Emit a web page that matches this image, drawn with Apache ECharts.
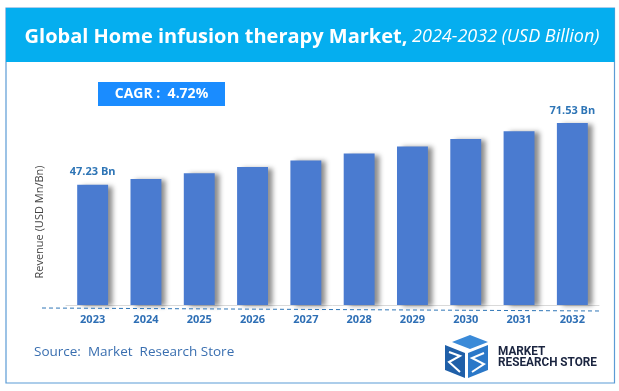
<!DOCTYPE html>
<html><head><meta charset="utf-8">
<script src="https://cdn.jsdelivr.net/npm/echarts@6/dist/echarts.min.js"></script>
<style>html,body{margin:0;padding:0;background:#fff}#c{width:619px;height:391px}</style>
</head><body><div id="c"></div>
<script>
const years = ['2023','2024','2025','2026','2027','2028','2029','2030','2031','2032'];
const revenue = [47.23, 49.46, 51.79, 54.24, 56.80, 59.48, 62.28, 65.22, 68.30, 71.53];
const labelText = ['47.23 Bn','','','','','','','','','71.53 Bn'];
const titleMain = 'Global Home infusion therapy Market,';
const titleSub = ' 2024-2032 (USD Billion)';
const cagrText = 'CAGR :  4.72%';
const yName = 'Revenue (USD Mn/Bn)';
const sourceText = 'Source:  Market  Research Store';

const FONT = 'Open Sans';
const chart = echarts.init(document.getElementById('c'));
const data = revenue.map((v, i) => ({
  value: v,
  label: { show: labelText[i] !== '', formatter: labelText[i] }
}));
chart.setOption({
  animation: false,
  grid: { left: 66, right: 20, top: 101.4, bottom: 86 },
  xAxis: {
    type: 'category', data: years,
    axisLine: { lineStyle: { color: '#d9d9d9', width: 1 } },
    axisTick: { show: false },
    axisLabel: { color: '#2e6fb5', fontWeight: 'bold', fontSize: 11, fontFamily: FONT, margin: 9 }
  },
  yAxis: {
    type: 'value', min: 0, max: 80,
    axisLabel: { show: false }, axisLine: { show: false }, axisTick: { show: false },
    splitLine: { show: false }
  },
  series: [{
    type: 'bar', data: data, barWidth: '58%',
    itemStyle: { color: '#4a7bd0', shadowColor: 'rgba(0,0,0,0.45)', shadowBlur: 5, shadowOffsetX: 5, shadowOffsetY: 1 },
    label: { position: 'top', distance: 7, color: '#2e75b6', fontWeight: 'bold', fontSize: 11, fontFamily: FONT }
  }],
  graphic: [
    { type: 'rect', shape: { x: 6, y: 8, width: 608.5, height: 375 }, style: { fill: 'none', stroke: '#5b9bd5', lineWidth: 1.2 }, z: 1 },
    { type: 'rect', shape: { x: 6, y: 8, width: 608.5, height: 54 }, style: { fill: '#05aeef' }, z: 2 },
    { type: 'text', x: 312, y: 37, z: 3, style: {
        text: '{a|' + titleMain + '}{b|' + titleSub + '}', align: 'center', verticalAlign: 'middle',
        rich: {
          a: { fill: '#fff', fontWeight: 'bold', fontSize: 20, fontFamily: FONT },
          b: { fill: '#fff', fontStyle: 'italic', fontSize: 18, fontFamily: FONT }
        } } },
    { type: 'rect', shape: { x: 98, y: 82, width: 127, height: 24 }, style: { fill: '#1a8cff' }, z: 2 },
    { type: 'text', x: 161.5, y: 94, z: 3, style: { text: cagrText, align: 'center', verticalAlign: 'middle', fill: '#fff', fontWeight: 'bold', fontSize: 14, fontFamily: FONT } },
    { type: 'text', x: 40, y: 222, rotation: Math.PI / 2, z: 3, style: { text: yName, align: 'center', verticalAlign: 'middle', fill: '#444', fontSize: 11, fontFamily: FONT } },
    { type: 'line', shape: { x1: 42, y1: 308, x2: 601, y2: 311 }, style: { stroke: '#2e75b6', lineWidth: 1, lineDash: [4, 3] }, z: 3 },
    { type: 'text', x: 34, y: 352, z: 3, style: { text: sourceText, align: 'left', verticalAlign: 'middle', fill: '#3a6fb0', fontSize: 13.5, fontFamily: FONT } },
    { type: 'polygon', shape: { points: [[452,342],[470,335],[488,342],[470,349]] }, style: { fill: '#3a8ad8' }, z: 3 },
    { type: 'polygon', shape: { points: [[445,345],[465,353],[465,378],[445,370]] }, style: { fill: '#1f5fa8' }, z: 3 },
    { type: 'polygon', shape: { points: [[468,353],[488,345],[488,370],[468,378]] }, style: { fill: '#2b78c8' }, z: 3 },
    { type: 'polyline', shape: { points: [[449,352],[460,356],[449,362],[460,372]] }, style: { stroke: '#fff', lineWidth: 2, fill: 'none' }, z: 4 },
    { type: 'polyline', shape: { points: [[484,353],[472,358],[484,364],[472,372]] }, style: { stroke: '#fff', lineWidth: 2, fill: 'none' }, z: 4 },
    { type: 'text', x: 498, y: 352, scaleX: 0.98, z: 3, style: { text: 'MARKET', align: 'left', verticalAlign: 'middle', fill: '#1b2540', fontWeight: 'bold', fontSize: 12, fontFamily: 'Roboto' } },
    { type: 'text', x: 498, y: 363, scaleX: 0.98, z: 3, style: { text: 'RESEARCH STORE', align: 'left', verticalAlign: 'middle', fill: '#1b2540', fontWeight: 'bold', fontSize: 12, fontFamily: 'Roboto' } }
  ]
});
</script></body></html>
